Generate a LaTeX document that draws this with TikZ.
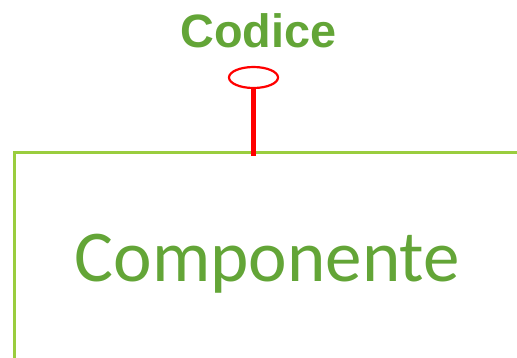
\documentclass[tikz,border=0pt]{standalone}
\usepackage{fontspec}
\usetikzlibrary{shapes.geometric}
\setmainfont{Liberation Sans}
\newfontfamily\calfont{Carlito}
\definecolor{textgreen}{HTML}{63A537}
\definecolor{linegreen}{HTML}{9ACD3E}
\definecolor{ifred}{HTML}{FF0000}
\begin{document}
\begin{tikzpicture}[x=1pt,y=-1pt,
  label/.style={inner sep=0pt, anchor=base, text=textgreen},
  border/.style={draw=linegreen, line width=3pt},
  lollipop/.style={draw=ifred, line width=2.2pt},
  stem/.style={draw=ifred, line width=5pt}]
  \useasboundingbox (0,0) rectangle (517,357);
  % component outline (top and left edges)
  \coordinate (corner) at (14.3,152.3);
  \coordinate (topright) at (530,152.3);
  \coordinate (bottomleft) at (14.3,370);
  \draw[border] (topright) -- (corner) -- (bottomleft);
  % provided interface
  \node[label, font=\bfseries\fontsize{46.8}{47}\selectfont] (codice) at (258.5,47.3) {Codice};
  \node[lollipop, ellipse, minimum width=49pt, minimum height=21pt, inner sep=0pt] (ball) at (253.5,77.5) {};
  \coordinate (stemfoot) at (253.8,156);
  \draw[stem] (ball.south -| stemfoot) -- (stemfoot);
  % component name
  \node[label, font=\calfont\fontsize{73}{73}\selectfont] (comp) at (267.4,281.7) {Componente};
\end{tikzpicture}
\end{document}
